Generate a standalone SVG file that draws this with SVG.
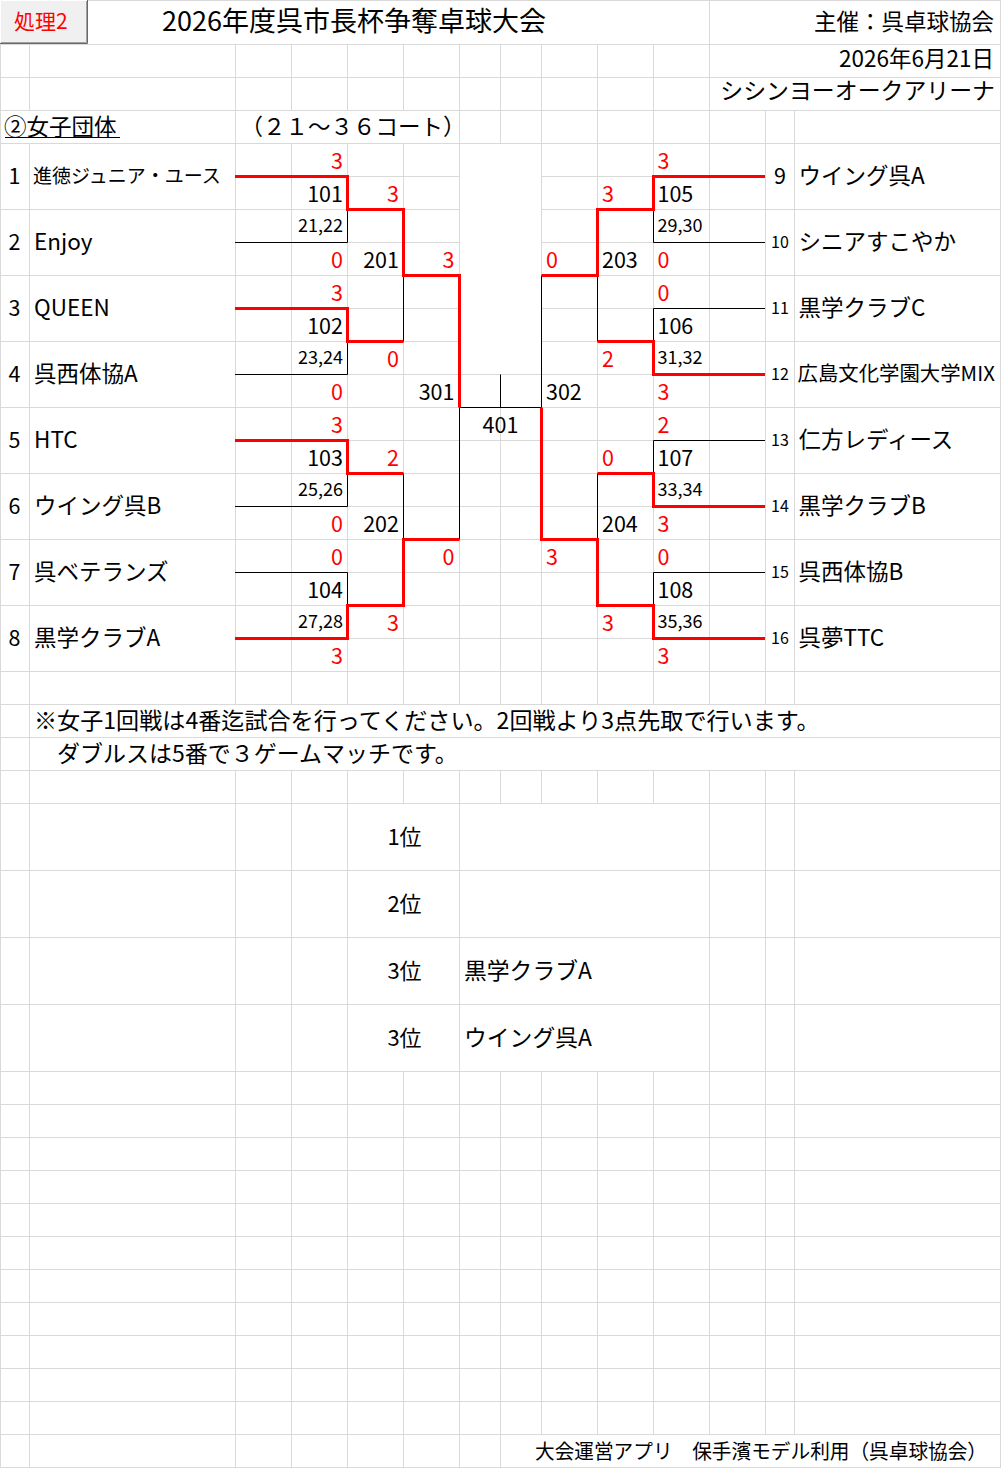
<svg xmlns="http://www.w3.org/2000/svg" width="1001" height="1468" viewBox="0 0 1001 1468">
<style>
.g{stroke:#d9d9d9;stroke-width:1;fill:none}
.bk{stroke:#000;stroke-width:1;fill:none}
.rd{stroke:#ff0000;stroke-width:3;fill:none;stroke-linejoin:miter;stroke-linecap:butt}
text{font-family:"Noto Sans CJK JP","Noto Sans",sans-serif;fill:#000}
.r{fill:#ff0000}
.n{font-size:21.5px}
.s{font-size:18px}
.nm{font-size:22.5px}
.e{text-anchor:end}
.m{text-anchor:middle}
.sn{font-size:16px}
</style>
<rect x="0" y="0" width="1001" height="1468" fill="#ffffff"/>
<g id="grid">
<path class="g" d="M0,0.5H1001M0,44.5H1001M0,77.5H1001M0,110.5H1001M0,143.5H1001M0,704.5H1001M0,737.5H1001M0,770.5H1001M0,803.5H1001M0,870.5H1001M0,937.5H1001M0,1004.5H1001M0,1071.5H1001M0,1104.5H1001M0,1137.5H1001M0,1170.5H1001M0,1203.5H1001M0,1236.5H1001M0,1269.5H1001M0,1302.5H1001M0,1335.5H1001M0,1368.5H1001M0,1401.5H1001M0,1434.5H1001M0,1467.5H1001"/>
<path class="g" d="M0,209.5H459M541,209.5H1001M0,275.5H459M541,275.5H1001M0,341.5H459M541,341.5H1001M0,407.5H1001M0,473.5H1001M0,539.5H1001M0,605.5H1001M0,671.5H1001"/>
<path class="g" d="M235,176.5H459M541,176.5H765M235,242.5H459M541,242.5H765M235,308.5H459M541,308.5H765M235,374.5H765M235,440.5H765M235,506.5H765M235,572.5H765M235,638.5H765"/>
<path class="g" d="M0.5,44V1468M29.5,44V110M29.5,143V1468M235.5,44V704M235.5,770V1468M291.5,44V110M291.5,143V704M291.5,770V1468M347.5,44V110M347.5,143V704M347.5,770V1468M403.5,44V110M403.5,143V704M403.5,770V803M403.5,1071V1468M459.5,44V704M459.5,770V1468M500.5,44V143M500.5,374V704M500.5,770V803M500.5,1071V1468"/>
<path class="g" d="M541.5,44V704M541.5,770V803M541.5,1071V1434M597.5,44V704M597.5,770V803M597.5,1071V1434M653.5,44V704M653.5,770V803M653.5,1071V1434M709.5,0V704M709.5,770V1434M765.5,110V704M765.5,770V1434M794.5,110V704M794.5,770V1434M1000.5,0V1468"/>
</g>
<g id="header">
<rect x="0" y="0" width="88" height="44" fill="#f0f0f0"/>
<path d="M0.5,43V0.5H87" stroke="#ffffff" stroke-width="1" fill="none"/>
<path d="M86.5,1V42.5H1" stroke="#a0a0a0" stroke-width="1" fill="none"/>
<path d="M87.5,0V43.5H0" stroke="#696969" stroke-width="1" fill="none"/>
<text x="14" y="29" class="r" font-size="21">処理2</text>
<text x="162" y="31" font-size="27">2026年度呉市長杯争奪卓球大会</text>
<text x="994" y="30" font-size="22.5" class="e">主催：呉卓球協会</text>
<text x="994" y="67" font-size="22.5" class="e">2026年6月21日</text>
<text x="995" y="99" font-size="22.9" class="e">シシンヨーオークアリーナ</text>
<text x="4" y="135" font-size="22.5">②女子団体</text>
<path d="M5,137.5H120" class="bk"/>
<text x="240.5" y="135" font-size="22.5">（２１～３６コート）</text>
</g>
<g id="connectors">
<path class="bk" d="M235,242.5H347.5V209.5M235,374.5H347.5V341.5M235,506.5H347.5V473.5M235,572.5H347.5V605.5M403.5,275.5V341.5M403.5,473.5V539.5M459.5,407.5V539.5M459.5,407.5H541.5M500.5,374.5V407.5"/>
<path class="bk" d="M765,242.5H653.5V209.5M765,308.5H653.5V341.5M765,440.5H653.5V473.5M765,572.5H653.5V605.5M597.5,275.5V341.5M597.5,473.5V539.5M541.5,275.5V407.5"/>
<path class="rd" d="M235,176.5H347.5V209.5H403.5V275.5H459.5V407.5"/>
<path class="rd" d="M235,308.5H347.5V341.5H403.5"/>
<path class="rd" d="M235,440.5H347.5V473.5H403.5"/>
<path class="rd" d="M235,638.5H347.5V605.5H403.5V539.5H459.5"/>
<path class="rd" d="M765,176.5H653.5V209.5H597.5V275.5H541.5"/>
<path class="rd" d="M765,374.5H653.5V341.5H597.5"/>
<path class="rd" d="M765,506.5H653.5V473.5H597.5"/>
<path class="rd" d="M765,638.5H653.5V605.5H597.5V539.5H541.5V407.5"/>
</g>
<g id="team-1"><text x="14.5" y="184" class="n m">1</text><text x="33" y="183" font-size="19">進徳ジュニア・ユース</text></g>
<g id="team-2"><text x="14.5" y="250" class="n m">2</text><text x="34" y="250" class="nm">Enjoy</text></g>
<g id="team-3"><text x="14.5" y="316" class="n m">3</text><text x="34" y="316" class="nm">QUEEN</text></g>
<g id="team-4"><text x="14.5" y="382" class="n m">4</text><text x="34" y="382" class="nm">呉西体協A</text></g>
<g id="team-5"><text x="14.5" y="448" class="n m">5</text><text x="34" y="448" class="nm">HTC</text></g>
<g id="team-6"><text x="14.5" y="514" class="n m">6</text><text x="34" y="514" class="nm">ウイング呉B</text></g>
<g id="team-7"><text x="14.5" y="580" class="n m">7</text><text x="34" y="580" class="nm">呉ベテランズ</text></g>
<g id="team-8"><text x="14.5" y="646" class="n m">8</text><text x="34" y="646" class="nm">黒学クラブA</text></g>
<g id="team-9"><text x="780" y="184" class="n m">9</text><text x="798.5" y="184" class="nm">ウイング呉A</text></g>
<g id="team-10"><text x="780" y="248" class="sn m">10</text><text x="798.5" y="250" class="nm">シニアすこやか</text></g>
<g id="team-11"><text x="780" y="314" class="sn m">11</text><text x="798.5" y="316" class="nm">黒学クラブC</text></g>
<g id="team-12"><text x="780" y="380" class="sn m">12</text><text x="797.5" y="381" font-size="20.4">広島文化学園大学MIX</text></g>
<g id="team-13"><text x="780" y="446" class="sn m">13</text><text x="798.5" y="448" class="nm">仁方レディース</text></g>
<g id="team-14"><text x="780" y="512" class="sn m">14</text><text x="798.5" y="514" class="nm">黒学クラブB</text></g>
<g id="team-15"><text x="780" y="578" class="sn m">15</text><text x="798.5" y="580" class="nm">呉西体協B</text></g>
<g id="team-16"><text x="780" y="644" class="sn m">16</text><text x="798.5" y="646" class="nm">呉夢TTC</text></g>
<g id="match-101"><text x="343" y="168.5" class="n e r">3</text><text x="343" y="201.5" class="n e">101</text><text x="343" y="231.5" class="s e">21,22</text><text x="343" y="267.5" class="n e r">0</text></g>
<g id="match-102"><text x="343" y="300.5" class="n e r">3</text><text x="343" y="333.5" class="n e">102</text><text x="343" y="363.5" class="s e">23,24</text><text x="343" y="399.5" class="n e r">0</text></g>
<g id="match-103"><text x="343" y="432.5" class="n e r">3</text><text x="343" y="465.5" class="n e">103</text><text x="343" y="495.5" class="s e">25,26</text><text x="343" y="531.5" class="n e r">0</text></g>
<g id="match-104"><text x="343" y="564.5" class="n e r">0</text><text x="343" y="597.5" class="n e">104</text><text x="343" y="627.5" class="s e">27,28</text><text x="343" y="663.5" class="n e r">3</text></g>
<g id="match-201"><text x="399" y="201.5" class="n e r">3</text><text x="399" y="267.5" class="n e">201</text><text x="399" y="366.5" class="n e r">0</text></g>
<g id="match-202"><text x="399" y="465.5" class="n e r">2</text><text x="399" y="531.5" class="n e">202</text><text x="399" y="630.5" class="n e r">3</text></g>
<g id="match-301"><text x="454.5" y="267.5" class="n e r">3</text><text x="454.5" y="399.5" class="n e">301</text><text x="454.5" y="564.5" class="n e r">0</text></g>
<g id="match-401"><text x="500.5" y="432.5" class="n m">401</text></g>
<g id="match-302"><text x="546" y="267.5" class="n r">0</text><text x="546" y="399.5" class="n">302</text><text x="546" y="564.5" class="n r">3</text></g>
<g id="match-203"><text x="602" y="201.5" class="n r">3</text><text x="602" y="267.5" class="n">203</text><text x="602" y="366.5" class="n r">2</text></g>
<g id="match-204"><text x="602" y="465.5" class="n r">0</text><text x="602" y="531.5" class="n">204</text><text x="602" y="630.5" class="n r">3</text></g>
<g id="match-105"><text x="657.5" y="168.5" class="n r">3</text><text x="657.5" y="201.5" class="n">105</text><text x="657.5" y="231.5" class="s">29,30</text><text x="657.5" y="267.5" class="n r">0</text></g>
<g id="match-106"><text x="657.5" y="300.5" class="n r">0</text><text x="657.5" y="333.5" class="n">106</text><text x="657.5" y="363.5" class="s">31,32</text><text x="657.5" y="399.5" class="n r">3</text></g>
<g id="match-107"><text x="657.5" y="432.5" class="n r">2</text><text x="657.5" y="465.5" class="n">107</text><text x="657.5" y="495.5" class="s">33,34</text><text x="657.5" y="531.5" class="n r">3</text></g>
<g id="match-108"><text x="657.5" y="564.5" class="n r">0</text><text x="657.5" y="597.5" class="n">108</text><text x="657.5" y="627.5" class="s">35,36</text><text x="657.5" y="663.5" class="n r">3</text></g>
<g id="notes">
<text x="34" y="728.5" font-size="23.1">※女子1回戦は4番迄試合を行ってください。2回戦より3点先取で行います。</text>
<text x="34" y="761.5" font-size="23">　ダブルスは5番で３ゲームマッチです。</text>
</g>
<g id="ranking">
<text x="404.5" y="844.5" font-size="22" class="m">1位</text>
<text x="404.5" y="911.5" font-size="22" class="m">2位</text>
<text x="404.5" y="978.5" font-size="22" class="m">3位</text>
<text x="464" y="978.5" font-size="22.8">黒学クラブA</text>
<text x="404.5" y="1045.5" font-size="22" class="m">3位</text>
<text x="464" y="1045.5" font-size="22.8">ウイング呉A</text>
</g>
<g id="footer">
<text x="535" y="1458.5" font-size="20.5" textLength="452" lengthAdjust="spacingAndGlyphs">大会運営アプリ　保手濱モデル利用（呉卓球協会）</text>
</g>
</svg>
